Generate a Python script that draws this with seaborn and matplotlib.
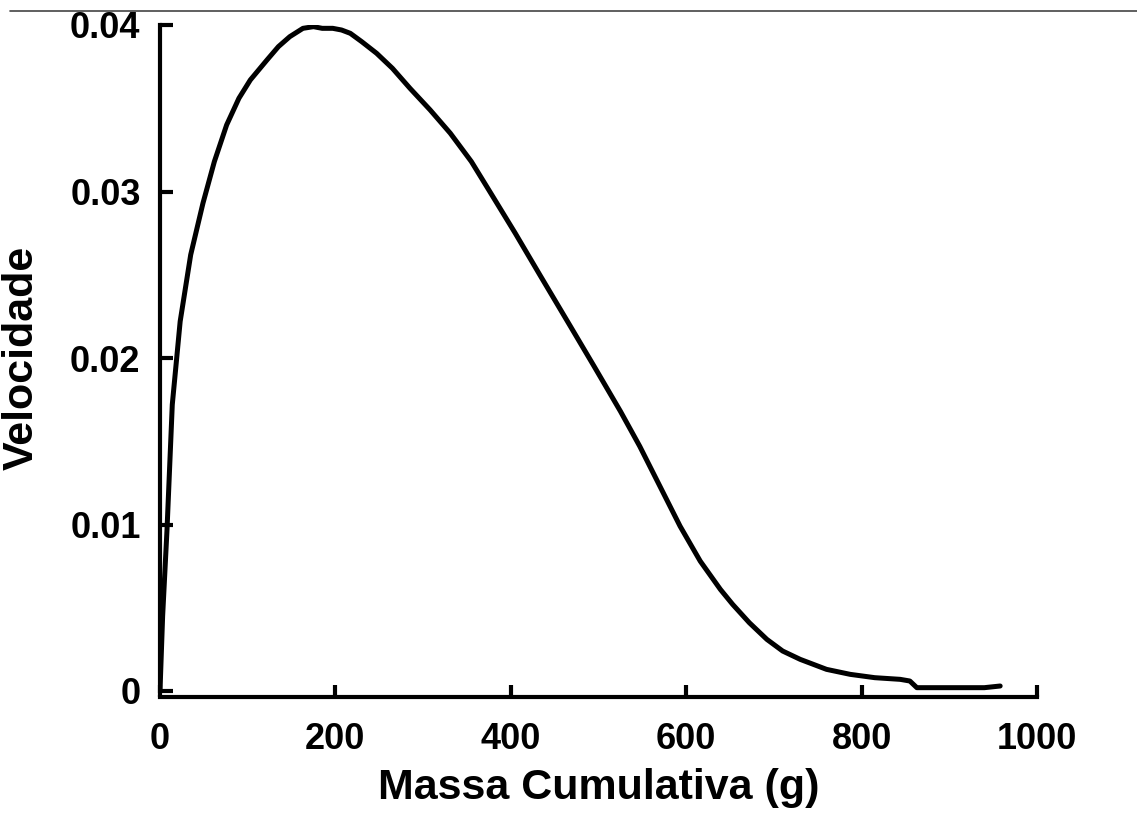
import matplotlib
matplotlib.use("Agg")
import matplotlib.pyplot as plt
from matplotlib.lines import Line2D
import seaborn as sns
import pandas as pd

massa = [0, 3, 8, 14, 23, 35, 49, 62, 76, 90, 103, 122, 135, 148, 163, 175, 185,
         197, 207, 217, 230, 247, 265, 285, 308, 331, 355, 376, 405, 433, 468, 495,
         525, 547, 570, 593, 616, 639, 653, 672, 692, 710, 730, 760, 787, 815, 844,
         855, 863, 890, 920, 940, 958]
velocidade = [0, 0.0045, 0.0097, 0.0172, 0.0222, 0.0262, 0.0293, 0.0318, 0.0340, 0.0356,
              0.0367, 0.0379, 0.0387, 0.0393, 0.0398, 0.0399, 0.0398, 0.0398, 0.0397,
              0.0395, 0.0390, 0.0383, 0.0374, 0.0362, 0.0349, 0.0335, 0.0318, 0.030,
              0.0275, 0.0250, 0.0219, 0.0195, 0.0168, 0.0147, 0.0123, 0.0099, 0.0078,
              0.0061, 0.0052, 0.0041, 0.0031, 0.0024, 0.0019, 0.0013, 0.0010, 0.0008,
              0.0007, 0.0006, 0.0002, 0.0002, 0.0002, 0.0002, 0.0003]
xticks = [0, 200, 400, 600, 800, 1000]
yticks = [0, 0.01, 0.02, 0.03, 0.04]
ytick_labels = ["0", "0.01", "0.02", "0.03", "0.04"]

sns.set_style("white")
plt.rcParams['font.family'] = ['Liberation Sans', 'DejaVu Sans']
plt.rcParams['font.weight'] = 'bold'

df = pd.DataFrame({"massa": massa, "vel": velocidade})

W, H = 1137, 815
fig = plt.figure(figsize=(W / 100, H / 100), dpi=100)
ax = fig.add_axes([160 / W, 1 - 691 / H, 877 / W, (691 - 25) / H])
sns.lineplot(data=df, x="massa", y="vel", color="black", linewidth=3.6,
             sort=False, estimator=None, ax=ax)
ax.set_xlim(0, 1000)
ax.set_ylim(0, 0.04)
ax.set_xticks(xticks)
ax.set_xticklabels([str(t) for t in xticks])
ax.set_yticks(yticks)
ax.set_yticklabels(ytick_labels)
sns.despine(ax=ax)
ax.spines['bottom'].set_position(('outward', 4))
for s in ['left', 'bottom']:
    ax.spines[s].set_linewidth(3)
    ax.spines[s].set_color('black')
ax.tick_params(axis='both', which='major', bottom=True, left=True,
               direction='in', length=9, width=3, colors='black', labelsize=26)
ax.tick_params(axis='x', pad=18)
ax.tick_params(axis='y', pad=14)
for lab in ax.get_xticklabels() + ax.get_yticklabels():
    lab.set_fontweight('bold')
ax.set_xlabel("Massa Cumulativa (g)", fontsize=31, fontweight='bold', labelpad=8,
              color='black')
ax.set_ylabel("Velocidade", fontsize=31, fontweight='bold', color='black')
ax.yaxis.set_label_coords(-0.135, 0.5)

fig.add_artist(Line2D([10 / W, 1], [1 - 11 / H, 1 - 11 / H], color='#444444', lw=1.2))

fig.savefig("out.png", dpi=100)
